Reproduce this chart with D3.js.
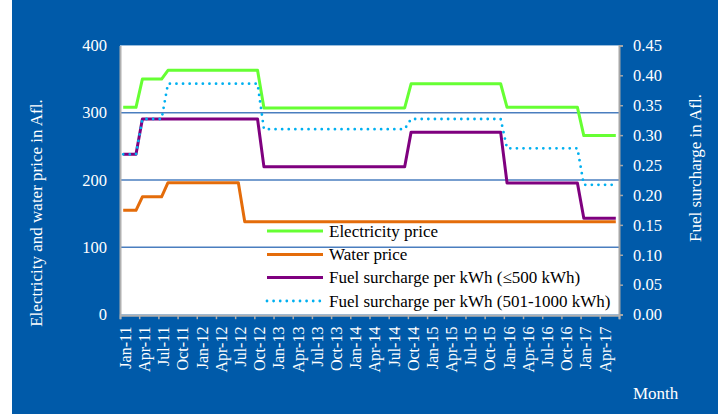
<!DOCTYPE html>
<html>
<head>
<meta charset="utf-8">
<script src="https://cdn.jsdelivr.net/npm/d3@7"></script>
<style>
  body { margin: 0; background: #fff; }
  svg { display: block; }
  svg text { font-family: "Liberation Serif", "Times New Roman", serif; }
</style>
</head>
<body>
<svg id="chart" width="720" height="414"></svg>
<script>
// month categories Jan-11 .. Jun-17
const monthNames = ['Jan','Feb','Mar','Apr','May','Jun','Jul','Aug','Sep','Oct','Nov','Dec'];
const years = ['11','12','13','14','15','16','17'];
const months = [];
years.forEach(yy => monthNames.forEach((m, k) => {
    if (yy === '17' && k > 5) return;
    months.push(m + '-' + yy);
}));

// electricity price (Afl.)
const electricity = [
    308,308,308, 350,350,350,350,
    363,363,363,363,363,363,363,363,363,363,363,363,363,363,363,
    307,307,307,307,307,307,307,307,307,307,307,307,307,307,307,307,307,307,307,307,307,307,307,
    343,343,343,343,343,343,343,343,343,343,343,343,343,343,343,
    308,308,308,308,308,308,308,308,308,308,308,308,
    266,266,266,266,266,266
];

// water price (Afl.)
const water = [
    155,155,155, 175,175,175,175,
    196,196,196,196,196,196,196,196,196,196,196,196,
    138,138,138,138,138,138,138,138,138,138,
    138,138,138,138,138,138,138,138,138,138,
    138,138,138,138,138,138,138,138,138,138,
    138,138,138,138,138,138,138,138,138,138,
    138,138,138,138,138,138,138,138,138,138,
    138,138,138,138,138,138,138,138,138
];

// fuel surcharge per kWh (<= 500 kWh)
const fuelLow = [
    0.268,0.268,0.268,
    0.327,0.327,0.327,0.327,0.327,0.327,0.327,0.327,0.327,0.327,0.327,0.327,0.327,0.327,0.327,0.327,0.327,0.327,0.327,
    0.247,0.247,0.247,0.247,0.247,0.247,0.247,0.247,0.247,0.247,0.247,0.247,0.247,0.247,0.247,0.247,0.247,0.247,0.247,0.247,0.247,0.247,0.247,
    0.305,0.305,0.305,0.305,0.305,0.305,0.305,0.305,0.305,0.305,0.305,0.305,0.305,0.305,0.305,
    0.220,0.220,0.220,0.220,0.220,0.220,0.220,0.220,0.220,0.220,0.220,0.220,
    0.161,0.161,0.161,0.161,0.161,0.161
];

// fuel surcharge per kWh (501-1000 kWh)
const fuelMid = [
    0.268,0.268,0.268, 0.327,0.327,0.327,0.327,
    0.386,0.386,0.386,0.386,0.386,0.386,0.386,0.386,0.386,0.386,0.386,0.386,0.386,0.386,0.386,
    0.310,0.310,0.310,0.310,0.310,0.310,0.310,0.310,0.310,0.310,0.310,0.310,0.310,0.310,0.310,0.310,0.310,0.310,0.310,0.310,0.310,0.310,0.310,
    0.327,0.327,0.327,0.327,0.327,0.327,0.327,0.327,0.327,0.327,0.327,0.327,0.327,0.327,0.327,
    0.278,0.278,0.278,0.278,0.278,0.278,0.278,0.278,0.278,0.278,0.278,0.278,
    0.217,0.217,0.217,0.217,0.217,0.217
];

const leftTicks = [0, 100, 200, 300, 400];
const rightTicks = [0, 0.05, 0.10, 0.15, 0.20, 0.25, 0.30, 0.35, 0.40, 0.45];

const series = [
    { name: 'Electricity price', values: electricity, axis: 'left', color: '#66ff33', dash: null },
    { name: 'Water price', values: water, axis: 'left', color: '#e46c0a', dash: null },
    { name: 'Fuel surcharge per kWh (\u2264500 kWh)', values: fuelLow, axis: 'right', color: '#7f007f', dash: null },
    { name: 'Fuel surcharge per kWh (501-1000 kWh)', values: fuelMid, axis: 'right', color: '#00b0f0', dash: '0 6.6' }
];

const FONT = '"Liberation Serif", "Times New Roman", serif';
const svg = d3.select('#chart');
const plot = { left: 120, right: 619, top: 45.4, bottom: 314.6 };

// blue panel
svg.append('rect')
    .attr('x', 12).attr('y', 0)
    .attr('width', 706).attr('height', 414)
    .attr('fill', '#005aa9');

// plot area
svg.append('rect')
    .attr('x', plot.left).attr('y', plot.top)
    .attr('width', plot.right - plot.left).attr('height', plot.bottom - plot.top)
    .attr('fill', '#fff');

const x = d3.scaleLinear().domain([0, months.length]).range([plot.left, plot.right]);
const yL = d3.scaleLinear().domain([0, 400]).range([plot.bottom, plot.top]);
const yR = d3.scaleLinear().domain([0, 0.45]).range([plot.bottom, plot.top]);

// gridlines
svg.append('g')
    .selectAll('line')
    .data(leftTicks.filter(d => d > 0 && d < 400))
    .join('line')
    .attr('x1', plot.left).attr('x2', plot.right)
    .attr('y1', d => yL(d)).attr('y2', d => yL(d))
    .attr('stroke', '#4a7ebf')
    .attr('stroke-width', 1.4);

// left axis
const gLeft = svg.append('g')
    .attr('transform', `translate(${plot.left},0)`)
    .call(d3.axisLeft(yL).tickValues(leftTicks).tickSize(0).tickPadding(13))
    .attr('font-family', FONT);
gLeft.select('.domain').attr('stroke', '#b0b0b0').attr('stroke-width', 2);
gLeft.selectAll('text').attr('fill', '#fff').attr('font-size', 16.5);

// right axis
const gRight = svg.append('g')
    .attr('transform', `translate(${plot.right},0)`)
    .call(d3.axisRight(yR).tickValues(rightTicks).tickSize(4).tickPadding(10)
        .tickFormat(d3.format('.2f')).tickSizeOuter(4))
    .attr('font-family', FONT);
gRight.select('.domain').attr('stroke', '#a6a6a6').attr('stroke-width', 2);
gRight.selectAll('.tick line').attr('stroke', '#a6a6a6').attr('stroke-width', 1.5);
gRight.selectAll('text').attr('fill', '#fff').attr('font-size', 16.5);

// bottom axis, ticks between quarters
const gBottom = svg.append('g')
    .attr('transform', `translate(0,${plot.bottom + 0.6})`)
    .call(d3.axisBottom(x).tickValues(d3.range(0, months.length + 1, 3)).tickSize(4).tickFormat(''));
gBottom.select('.domain').attr('stroke', '#b0b0b0').attr('stroke-width', 2);
gBottom.selectAll('.tick line').attr('stroke', '#b0b0b0').attr('stroke-width', 1.5);

// month labels, every third month
svg.append('g')
    .attr('font-family', FONT)
    .selectAll('text')
    .data(months.map((m, i) => ({ m, i })).filter(d => d.i % 3 === 0))
    .join('text')
    .attr('transform', d => `translate(${x(d.i + 0.5) + 2},${plot.bottom + 12}) rotate(-90)`)
    .attr('text-anchor', 'end')
    .attr('dy', '0.35em')
    .attr('fill', '#fff')
    .attr('font-size', 16)
    .text(d => d.m);

// series lines
series.forEach(s => {
    const yS = s.axis === 'left' ? yL : yR;
    const line = d3.line()
        .x((d, i) => x(i + 0.5))
        .y(d => yS(d));
    svg.append('path')
        .datum(s.values)
        .attr('d', line)
        .attr('fill', 'none')
        .attr('stroke', s.color)
        .attr('stroke-width', s.dash ? 2.8 : 3)
        .attr('stroke-linecap', s.dash ? 'round' : 'butt')
        .attr('stroke-linejoin', 'round')
        .attr('stroke-dasharray', s.dash);
});

// legend
const legend = svg.append('g').attr('transform', 'translate(267,231)').attr('font-family', FONT);
series.forEach((s, k) => {
    const ly = [0, 23.5, 46.5, 70][k];
    legend.append('line')
        .attr('x1', 0).attr('x2', 56)
        .attr('y1', ly).attr('y2', ly)
        .attr('stroke', s.color)
        .attr('stroke-width', s.dash ? 2.8 : 3)
        .attr('stroke-linecap', s.dash ? 'round' : 'butt')
        .attr('stroke-dasharray', s.dash);
    legend.append('text')
        .attr('x', 62).attr('y', ly + 5.5)
        .attr('fill', '#000')
        .attr('font-size', 17)
        .text(s.name);
});

// axis titles
svg.append('text')
    .attr('transform', 'translate(36,213) rotate(-90)')
    .attr('text-anchor', 'middle')
    .attr('dy', '0.35em')
    .attr('fill', '#fff')
    .attr('font-size', 17)
    .text('Electricity and water price in Afl.');

svg.append('text')
    .attr('transform', 'translate(695,168) rotate(-90)')
    .attr('text-anchor', 'middle')
    .attr('dy', '0.35em')
    .attr('fill', '#fff')
    .attr('font-size', 17)
    .text('Fuel surcharge in Afl.');

svg.append('text')
    .attr('x', 633).attr('y', 399)
    .attr('fill', '#fff')
    .attr('font-size', 17)
    .text('Month');
</script>
</body>
</html>
